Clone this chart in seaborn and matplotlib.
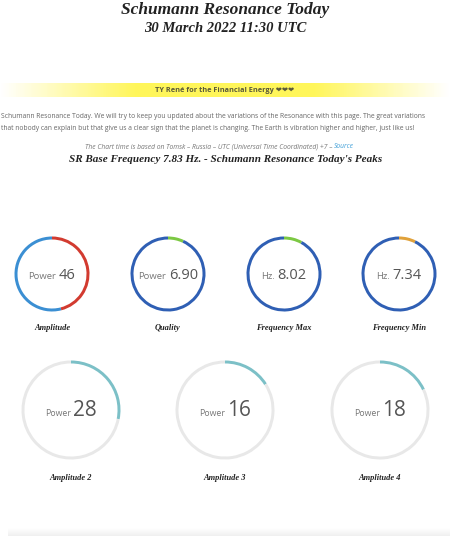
import numpy as np
import matplotlib
matplotlib.use("Agg")
import matplotlib.pyplot as plt
from matplotlib.colors import LinearSegmentedColormap
import seaborn as sns

sns.set_theme(style="white")
plt.rcParams['font.family'] = ['Open Sans', 'DejaVu Sans']

# gauge data
top_labels = ["Amplitude", "Quality", "Frequency Max", "Frequency Min"]
top_units = ["Power", "Power", "Hz.", "Hz."]
top_values = [46, 6.90, 8.02, 7.34]
top_texts = ["46", "6.90", "8.02", "7.34"]
top_colors = ["#d23b30", "#7cc843", "#7cc843", "#e0a13a"]
top_tracks = ["#3b8fd3", "#2f5fb4", "#2f5fb4", "#2f5fb4"]

bottom_labels = ["Amplitude 2", "Amplitude 3", "Amplitude 4"]
bottom_units = ["Power", "Power", "Power"]
bottom_values = [28, 16, 18]
bottom_texts = ["28", "16", "18"]
scale_max = 100

W, H = 450, 536
fig = plt.figure(figsize=(W / 100, H / 100), dpi=100)
fig.patch.set_facecolor("white")
bg = fig.add_axes([0, 0, 1, 1])
bg.set_xlim(0, W)
bg.set_ylim(H, 0)
bg.axis("off")

title_font = dict(family=["Liberation Serif", "DejaVu Serif"], style="italic", weight="bold", color="#222222")

bg.text(225, 10, "Schumann Resonance Today", ha="center", va="center", fontsize=12.5, **title_font)
bg.text(225, 29, "30 March 2022 11:30 UTC", ha="center", va="center", fontsize=10.5, **title_font)

# yellow banner
cmap = LinearSegmentedColormap.from_list("band", [(0, "#ffffff"), (0.3, "#fff65a"), (0.7, "#fff65a"), (1, "#ffffff")])
bg.imshow(np.linspace(0, 1, 200).reshape(1, -1), cmap=cmap, aspect="auto", extent=(0, W, 97, 83), zorder=0)
bg.text(225, 90, "TY René for the Financial Energy ❤❤❤", ha="center", va="center", fontsize=5.3,
        weight="bold", color="#5a5a3a", family=["Open Sans", "DejaVu Sans"])

bg.text(1, 117, "Schumann Resonance Today. We will try to keep you updated about the variations of the Resonance with this page. The great variations",
        ha="left", va="center", fontsize=4.85, color="#666666")
bg.text(1, 129, "that nobody can explain but that give us a clear sign that the planet is changing. The Earth is vibration higher and higher, just like us!",
        ha="left", va="center", fontsize=4.85, color="#666666")

t1 = bg.text(85, 147, "The Chart time is based on Tomsk – Russia – UTC (Universal Time Coordinated) +7 – ",
             ha="left", va="center", fontsize=4.9, color="#777777", style="italic")
fig.canvas.draw()
r = fig.canvas.get_renderer()
bb = t1.get_window_extent(r)
bg.text(bb.x1, H - 147, "Source", transform=None, ha="left", va="center", fontsize=4.9, color="#45a2d9", style="italic")

bg.text(226, 159, "SR Base Frequency 7.83 Hz. - Schumann Resonance Today's Peaks", ha="center", va="center",
        fontsize=8, **title_font)


def gauge(cx, cy, rad, val, color, track, width):
    ax = fig.add_axes([(cx - rad) / W, 1 - (cy + rad) / H, 2 * rad / W, 2 * rad / H])
    ax.pie([val, scale_max - val], colors=[color, track], startangle=90, counterclock=False,
           radius=1, wedgeprops=dict(width=width, linewidth=0))
    ax.set_xlim(-1, 1)
    ax.set_ylim(-1, 1)
    ax.set_aspect("equal")
    ax.axis("off")


def center_text(cx, cy, unit, num, usize, nsize):
    a = bg.text(0, 0, unit, fontsize=usize, color="#777777", va="baseline")
    b = bg.text(0, 0, num, fontsize=nsize, color="#555555", va="baseline")
    fig.canvas.draw()
    wa = a.get_window_extent(r).width
    wb = b.get_window_extent(r).width
    gap = 2.5
    left = cx - (wa + gap + wb) / 2
    a.set_position((left, cy))
    b.set_position((left + wa + gap, cy))


top_x = [52, 168, 284, 399]
for i in range(4):
    gauge(top_x[i], 274, 37.5, top_values[i], top_colors[i], top_tracks[i], 0.08)
    center_text(top_x[i], 279, top_units[i], top_texts[i], 6.8, 10.5)
    bg.text(top_x[i], 328, top_labels[i], ha="center", va="center", fontsize=6, **title_font)

bot_x = [71, 225, 380]
for i in range(3):
    gauge(bot_x[i], 410, 49.5, bottom_values[i], "#7cc0c7", "#e8e8e8", 0.06)
    center_text(bot_x[i], 416, bottom_units[i], bottom_texts[i], 6.3, 15)
    bg.text(bot_x[i], 478, bottom_labels[i], ha="center", va="center", fontsize=6, **title_font)

# footer shadow
bg.imshow(np.linspace(0, 1, 20).reshape(-1, 1), cmap=LinearSegmentedColormap.from_list("sh", ["#ffffff", "#f0f0f0"]),
          aspect="auto", extent=(8, W, 536, 528), zorder=0)
bg.set_xlim(0, W)
bg.set_ylim(H, 0)

fig.savefig("out.png", dpi=100, facecolor="white")
